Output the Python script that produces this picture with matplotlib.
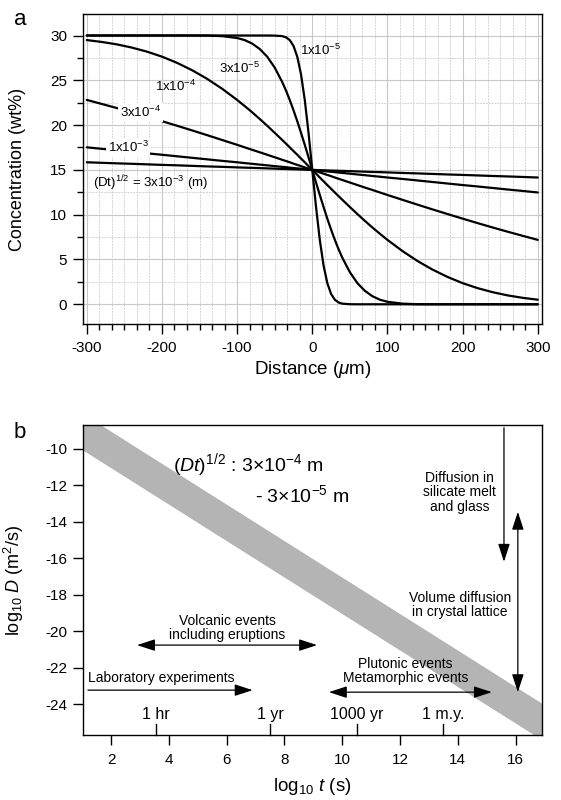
import matplotlib
matplotlib.use("Agg")
import matplotlib.pyplot as plt
from matplotlib.ticker import MultipleLocator
from matplotlib.transforms import blended_transform_factory

plt.rcParams["font.family"] = ["Liberation Sans", "DejaVu Sans"]
plt.rcParams["mathtext.fontset"] = "custom"
plt.rcParams["mathtext.rm"] = "Liberation Sans"
plt.rcParams["mathtext.it"] = "Liberation Sans:italic"
plt.rcParams["mathtext.bf"] = "Liberation Sans:bold"
plt.rcParams["axes.unicode_minus"] = False

# ---- painel a: perfis de concentracao ----
distance = [-300, -280, -260, -240, -220, -200, -180, -160, -140, -120, -100, -90, -80, -70, -60, -50,
            -40, -35, -30, -25, -20, -15, -10, -5,
            0,
            5, 10, 15, 20, 25, 30, 35, 40, 50, 60, 70, 80, 90, 100, 120, 140,
            160, 180, 200, 220, 240, 260, 280, 300]

conc_1e5 = [30, 30, 30, 30, 30, 30, 30, 30, 30, 30, 30, 30, 30, 30, 30, 29.99,
            29.93, 29.80, 29.49, 28.84, 27.64, 25.67, 22.81, 19.14,
            15,
            10.86, 7.19, 4.33, 2.36, 1.16, 0.51, 0.20, 0.07, 0.01, 0, 0, 0, 0, 0, 0, 0,
            0, 0, 0, 0, 0, 0, 0, 0]
conc_3e5 = [30, 30, 30, 30, 30, 30, 30, 30, 29.99, 29.93, 29.72, 29.49, 29.10, 28.50, 27.64, 26.42,
            24.81, 23.86, 22.81, 21.66, 20.44, 19.14, 17.80, 16.41,
            15,
            13.59, 12.20, 10.86, 9.56, 8.34, 7.19, 6.14, 5.19, 3.58, 2.36, 1.50, 0.90, 0.51, 0.28, 0.07, 0.01,
            0, 0, 0, 0, 0, 0, 0, 0]
conc_1e4 = [29.49, 29.28, 29.01, 28.65, 28.20, 27.64, 26.95, 26.13, 25.17, 24.06, 22.81, 22.13, 21.43, 20.69, 19.93, 19.14,
            18.34, 17.93, 17.52, 17.10, 16.69, 16.27, 15.85, 15.42,
            15,
            14.58, 14.15, 13.73, 13.31, 12.90, 12.48, 12.07, 11.66, 10.86, 10.07, 9.31, 8.57, 7.87, 7.19, 5.94, 4.83,
            3.87, 3.05, 2.36, 1.80, 1.35, 0.99, 0.72, 0.51]
conc_3e4 = [22.81, 22.36, 21.90, 21.43, 20.94, 20.44, 19.93, 19.41, 18.88, 18.34, 17.80, 17.52, 17.24, 16.97, 16.69, 16.41,
            16.13, 15.99, 15.85, 15.70, 15.56, 15.42, 15.28, 15.14,
            15,
            14.86, 14.72, 14.58, 14.44, 14.30, 14.15, 14.01, 13.87, 13.59, 13.31, 13.03, 12.76, 12.48, 12.20, 11.66, 11.12,
            10.59, 10.07, 9.56, 9.06, 8.57, 8.10, 7.64, 7.19]
conc_1e3 = [17.52, 17.35, 17.19, 17.02, 16.85, 16.69, 16.52, 16.35, 16.18, 16.01, 15.85, 15.76, 15.68, 15.59, 15.51, 15.42,
            15.34, 15.30, 15.25, 15.21, 15.17, 15.13, 15.08, 15.04,
            15,
            14.96, 14.92, 14.87, 14.83, 14.79, 14.75, 14.70, 14.66, 14.58, 14.49, 14.41, 14.32, 14.24, 14.15, 13.99, 13.82,
            13.65, 13.48, 13.31, 13.15, 12.98, 12.81, 12.65, 12.48]
conc_3e3 = [15.85, 15.79, 15.73, 15.68, 15.62, 15.56, 15.51, 15.45, 15.39, 15.34, 15.28, 15.25, 15.23, 15.20, 15.17, 15.14,
            15.11, 15.10, 15.08, 15.07, 15.06, 15.04, 15.03, 15.01,
            15,
            14.99, 14.97, 14.96, 14.94, 14.93, 14.92, 14.90, 14.89, 14.86, 14.83, 14.80, 14.77, 14.75, 14.72, 14.66, 14.61,
            14.55, 14.49, 14.44, 14.38, 14.32, 14.27, 14.21, 14.15]

profiles = [conc_1e5, conc_3e5, conc_1e4, conc_3e4, conc_1e3, conc_3e3]

curve_labels = [r"1x10$^{-5}$", r"3x10$^{-5}$", r"1x10$^{-4}$", r"3x10$^{-4}$", r"1x10$^{-3}$",
                r"(Dt)$^{1/2}$ = 3x10$^{-3}$ (m)"]
label_x = [-17, -124, -209, -256, -272, -292]
label_y = [28.3, 26.3, 24.3, 21.4, 17.5, 13.5]
label_masked = [False, False, False, True, True, False]

# ---- painel b: D x t ----
band_t = [1, 17]
band_upper = [-8.05, -24.05]   # (Dt)^1/2 = 3e-4 m
band_lower = [-10.05, -26.05]  # (Dt)^1/2 = 3e-5 m

time_marks = [3.556, 7.5, 10.5, 13.5]
time_labels = ["1 hr", "1 yr", "1000 yr", "1 m.y."]


fig = plt.figure(figsize=(5.61, 8.0), dpi=100)

# ===================== painel a =====================
ax = fig.add_axes([0.148, 0.595, 0.8173, 0.3875])
for c in profiles:
    ax.plot(distance, c, color="black", lw=1.6, zorder=3,
            solid_joinstyle="round", solid_capstyle="round")

for txt, x, y, masked in zip(curve_labels, label_x, label_y, label_masked):
    kw = {}
    if masked:
        kw["bbox"] = dict(boxstyle="square,pad=0.12", fc="white", ec="none")
    ax.text(x, y, txt, fontsize=9.5, ha="left", va="center", zorder=4, **kw)

ax.set_xlim(-305, 305)
ax.set_ylim(-2.2, 32.4)
ax.xaxis.set_major_locator(MultipleLocator(100))
ax.xaxis.set_minor_locator(MultipleLocator(100 / 6))
ax.yaxis.set_major_locator(MultipleLocator(5))
ax.yaxis.set_minor_locator(MultipleLocator(2.5))
ax.grid(True, which="major", color="#c8c8c8", lw=0.8)
ax.grid(True, which="minor", color="#d4d4d4", lw=0.7, ls=(0, (2, 1)))
ax.set_axisbelow(True)
ax.tick_params(which="major", direction="out", length=7.5, width=1.0, labelsize=11, pad=4)
ax.tick_params(which="minor", direction="out", length=4.5, width=1.0)
ax.tick_params(axis="x", which="major", pad=5)
for s in ax.spines.values():
    s.set_linewidth(1.0)
ax.set_xlabel(r"Distance ($\mu$m)", fontsize=13.5)
ax.set_ylabel("Concentration (wt%)", fontsize=13)
ax.xaxis.set_label_coords(0.5, -0.112)
ax.yaxis.set_label_coords(-0.125, 0.5)
fig.text(0.036, 0.976, "a", fontsize=16, ha="center", va="center")

# ===================== painel b =====================
bx = fig.add_axes([0.148, 0.08125, 0.8173, 0.3875])
bx.fill_between(band_t, band_lower, band_upper, color="#b4b4b4", lw=0, zorder=1)

bx.text(4.14, -10.88, r"($\it{Dt}$)$^{1/2}$ : 3×10$^{-4}$ m", fontsize=14, ha="left", va="center")
bx.text(6.98, -12.53, r"- 3×10$^{-5}$ m", fontsize=14, ha="left", va="center")

arrow_single = dict(arrowstyle="-|>,head_length=1.1,head_width=0.36", color="black",
                    lw=0.9, shrinkA=0, shrinkB=0, mutation_scale=10)
arrow_double = dict(arrowstyle="<|-|>,head_length=1.1,head_width=0.36", color="black",
                    lw=0.9, shrinkA=0, shrinkB=0, mutation_scale=10)
note_kw = dict(fontsize=10, ha="center", va="center", linespacing=1.05)

# silicate melt
bx.annotate("", xy=(15.6, -16.2), xytext=(15.6, -8.85), arrowprops=arrow_single, zorder=3)
bx.text(14.07, -12.4, "Diffusion in\nsilicate melt\nand glass", **note_kw)
# crystal lattice
bx.annotate("", xy=(16.08, -23.35), xytext=(16.08, -13.46), arrowprops=arrow_double, zorder=3)
bx.text(14.07, -18.57, "Volume diffusion\nin crystal lattice", **note_kw)
# volcanic
bx.annotate("", xy=(2.9, -20.77), xytext=(9.13, -20.77), arrowprops=arrow_double, zorder=3)
bx.text(6.03, -19.84, "Volcanic events\nincluding eruptions", **note_kw)
# laboratory
bx.annotate("", xy=(6.9, -23.24), xytext=(1.2, -23.24), arrowprops=arrow_single, zorder=3)
bx.text(1.2, -22.58, "Laboratory experiments", fontsize=10, ha="left", va="center")
# plutonic / metamorphic
bx.annotate("", xy=(9.54, -23.35), xytext=(15.18, -23.35), arrowprops=arrow_double, zorder=3)
bx.text(12.2, -22.2, "Plutonic events\nMetamorphic events", **note_kw)

# marcas de tempo (ticks internos)
trans = blended_transform_factory(bx.transData, bx.transAxes)
for t, lab in zip(time_marks, time_labels):
    bx.plot([t, t], [0, 0.036], color="black", lw=1.0, transform=trans, clip_on=False)
    bx.text(t, 0.042, lab, fontsize=11.5, ha="center", va="bottom", transform=trans)

bx.set_xlim(1.03, 16.9)
bx.set_ylim(-25.7, -8.7)
bx.xaxis.set_major_locator(MultipleLocator(2))
bx.yaxis.set_major_locator(MultipleLocator(2))
bx.tick_params(which="major", direction="out", length=7, width=1.0, labelsize=11, pad=4)
bx.tick_params(axis="x", which="major", pad=6)
for s in bx.spines.values():
    s.set_linewidth(1.0)
bx.set_xlabel(r"log$_{10}$ $\it{t}$ (s)", fontsize=13.5)
bx.set_ylabel(r"log$_{10}$ $\it{D}$ (m$^{2}$/s)", fontsize=13)
bx.xaxis.set_label_coords(0.5, -0.132)
bx.yaxis.set_label_coords(-0.125, 0.5)
fig.text(0.036, 0.46, "b", fontsize=16, ha="center", va="center")

fig.savefig("out.png", dpi=100)
